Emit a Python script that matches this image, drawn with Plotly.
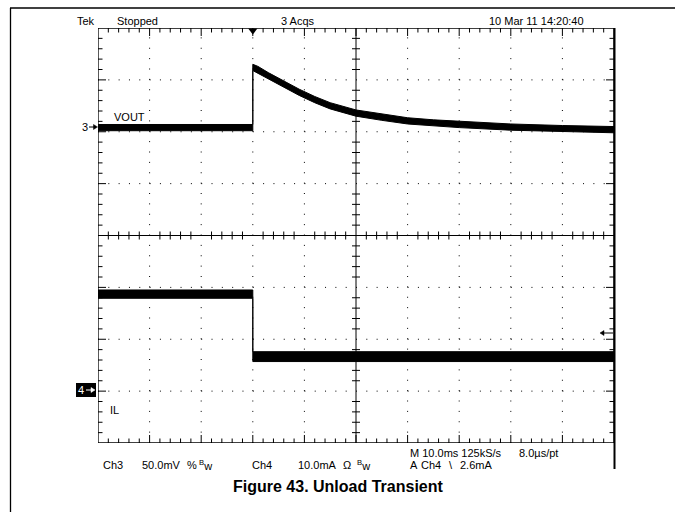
import plotly.graph_objects as go

# ---------------- data ----------------
time_range_ms = [-30, 70]          # 10 ms/div, 10 divisions
trigger_time_ms = 0

# Ch3 (VOUT, AC view, mV relative to the pre-step level): envelope of the noisy trace
vout_t     = [-30, 0, 0, 1, 3, 6, 9, 12, 15, 20, 25, 30, 35, 40, 50, 60, 70]
vout_upper = [3, 3, 61, 59, 53, 45, 37, 30, 24, 17, 13, 9.5, 7.5, 6, 3.5, 2, 1]
vout_lower = [-3, -3, 55, 53, 47, 39, 31, 24, 18, 11, 7, 3.5, 1.5, 0, -2.5, -4, -5]

# Ch4 (IL, mA): envelope of the noisy trace
il_t     = [-30, 0, 0, 70]
il_upper = [19.5, 19.5, 7.6, 7.6]
il_lower = [17.9, 17.9, 5.7, 5.7]

ch3_scale, ch3_offset_div = 50, 2.08   # mV/div, marker position in divisions
ch4_scale, ch4_offset_div = 10, -3.0   # mA/div

# ---------------- layout geometry ----------------
W, H = 675, 512
L, R, T, B = 98, 61, 28, 69
PW, PH = W - L - R, H - T - B


def px(x):
    return (x - L) / PW


def py(y):
    return (H - B - y) / PH


FONT = "Liberation Sans, Arial, sans-serif"
fig = go.Figure()

# ---------------- graticule ticks ----------------
mx = (time_range_ms[1] - time_range_ms[0]) / PW
my = 8 / PH
tx, ty = [], []


def seg(x0, y0, x1, y1):
    tx.extend([x0, x1, None])
    ty.extend([y0, y1, None])


for k in range(1, 50):
    x = time_range_ms[0] + 2 * k
    major = k % 5 == 0
    ln = 8 if major else 4.5
    seg(x, 4, x, 4 - ln * my)
    seg(x, -4, x, -4 + ln * my)
    if not major:
        seg(x, -4 * my, x, 4 * my)
for k in range(1, 40):
    y = -4 + 0.2 * k
    major = k % 5 == 0
    ln = 8 if major else 4.5
    seg(time_range_ms[0], y, time_range_ms[0] + ln * mx, y)
    seg(time_range_ms[1], y, time_range_ms[1] - ln * mx, y)
    if not major:
        seg(20 - 4 * mx, y, 20 + 4 * mx, y)

fig.add_trace(go.Scatter(x=tx, y=ty, mode="lines", xaxis="x", yaxis="y",
                         line=dict(color="black", width=1), hoverinfo="skip"))

# ---------------- traces ----------------
fig.add_trace(go.Scatter(
    x=vout_t + vout_t[::-1], y=vout_upper + vout_lower[::-1],
    mode="lines", fill="toself", fillcolor="black",
    line=dict(color="black", width=1), xaxis="x", yaxis="y2", hoverinfo="skip"))
fig.add_trace(go.Scatter(
    x=il_t + il_t[::-1], y=il_upper + il_lower[::-1],
    mode="lines", fill="toself", fillcolor="black",
    line=dict(color="black", width=1), xaxis="x", yaxis="y3", hoverinfo="skip"))

# trigger position marker
fig.add_trace(go.Scatter(x=[trigger_time_ms], y=[3.95], mode="markers", xaxis="x", yaxis="y",
                         marker=dict(symbol="triangle-down", size=8, color="black"),
                         cliponaxis=False, hoverinfo="skip"))

# ---------------- shapes ----------------
shapes = []
for xm in [-20, -10, 0, 10, 30, 40, 50, 60]:
    shapes.append(dict(type="line", xref="x", yref="y", x0=xm, x1=xm, y0=-4, y1=4,
                       line=dict(color="black", width=1, dash="1px,9.375px"), layer="below"))
for ym in [-3, -2, -1, 1, 2, 3]:
    shapes.append(dict(type="line", xref="x", yref="y", x0=-30, x1=70, y0=ym, y1=ym,
                       line=dict(color="black", width=1, dash="1px,9.32px"), layer="below"))
shapes.append(dict(type="line", xref="x", yref="y", x0=20, x1=20, y0=-4, y1=4,
                   line=dict(color="black", width=1)))
shapes.append(dict(type="line", xref="x", yref="y", x0=-30, x1=70, y0=0, y1=0,
                   line=dict(color="black", width=1)))
shapes.append(dict(type="rect", xref="x", yref="y", x0=-30, x1=70, y0=-4, y1=4,
                   line=dict(color="black", width=1.3)))
shapes.append(dict(type="line", xref="paper", yref="paper", x0=px(614.5), x1=px(614.5),
                   y0=py(443), y1=py(469), line=dict(color="black", width=2)))
shapes.append(dict(type="line", xref="paper", yref="paper", x0=px(614.5), x1=px(614.5),
                   y0=py(443), y1=py(28), line=dict(color="black", width=2)))
# outer frame
shapes.append(dict(type="line", xref="paper", yref="paper", x0=px(10), x1=px(675),
                   y0=py(8), y1=py(8), line=dict(color="black", width=1.3)))
shapes.append(dict(type="line", xref="paper", yref="paper", x0=px(10.5), x1=px(10.5),
                   y0=py(8), y1=py(512), line=dict(color="black", width=1.3)))
# ch4 reference box
shapes.append(dict(type="rect", xref="paper", yref="paper", x0=px(76), x1=px(96),
                   y0=py(397), y1=py(383), fillcolor="black", line=dict(width=0)))


def arrow(x_tail, x_head, y, color="black"):
    """small horizontal arrow drawn in pixel coordinates"""
    d = 1 if x_head > x_tail else -1
    shapes.append(dict(type="line", xref="paper", yref="paper",
                       x0=px(x_tail), x1=px(x_head - d * 3), y0=py(y), y1=py(y),
                       line=dict(color=color, width=1)))
    path = "M %f %f L %f %f L %f %f Z" % (
        px(x_head), py(y), px(x_head - d * 4), py(y - 2.5), px(x_head - d * 4), py(y + 2.5))
    shapes.append(dict(type="path", xref="paper", yref="paper", path=path,
                       fillcolor=color, line=dict(color=color, width=0.5)))


arrow(89, 97.5, 127)
arrow(86, 95, 390, color="white")
arrow(613, 600, 333)

# ---------------- annotations ----------------
ann = []


def text(s, x, y, size=11, color="black", anchor="left", bold=False):
    ann.append(dict(text=("<b>%s</b>" % s) if bold else s, x=px(x), y=py(y),
                    xref="paper", yref="paper", xanchor=anchor, yanchor="middle",
                    showarrow=False, font=dict(family=FONT, size=size, color=color)))


text("Tek", 75, 21)
text("Stopped", 115, 21)
text("3 Acqs", 279, 21)
text("10 Mar 11 14:20:40", 487, 21)
text("VOUT", 112, 117)
text("3", 85, 127, anchor="center")
text("4", 81, 390, color="white", anchor="center")
text("IL", 108, 410)

text("M 10.0ms 125kS/s", 408, 453)
text("8.0\u00b5s/pt", 517, 453)
text("Ch3", 101, 465)
text("50.0mV", 140, 465)
text("%", 185, 465)
text("<sup>B</sup>w", 197, 465)
text("Ch4", 250, 465)
text("10.0mA", 296, 465)
text("\u03a9", 341, 465)
text("<sup>B</sup>w", 355, 465)
text("A", 408, 465)
text("Ch4", 419, 465)
text("\\", 447, 465)
text("2.6mA", 458, 465)

text("Figure 43. Unload Transient", 338, 486, size=16, anchor="center", bold=True)

# ---------------- layout ----------------
hidden = dict(visible=False, showgrid=False, zeroline=False, fixedrange=True)
fig.update_layout(
    width=W, height=H,
    margin=dict(l=L, r=R, t=T, b=B, pad=0),
    paper_bgcolor="white", plot_bgcolor="white",
    showlegend=False, hovermode=False,
    xaxis=dict(range=time_range_ms, **hidden),
    yaxis=dict(range=[-4, 4], **hidden),
    yaxis2=dict(range=[-(4 + ch3_offset_div) * ch3_scale, (4 - ch3_offset_div) * ch3_scale],
                overlaying="y", **hidden),
    yaxis3=dict(range=[-(4 + ch4_offset_div) * ch4_scale, (4 - ch4_offset_div) * ch4_scale],
                overlaying="y", **hidden),
    shapes=shapes, annotations=ann,
)

fig.write_html("out.html", config={"displayModeBar": False},
               post_script="document.body.style.margin='0';document.body.style.padding='0';")
